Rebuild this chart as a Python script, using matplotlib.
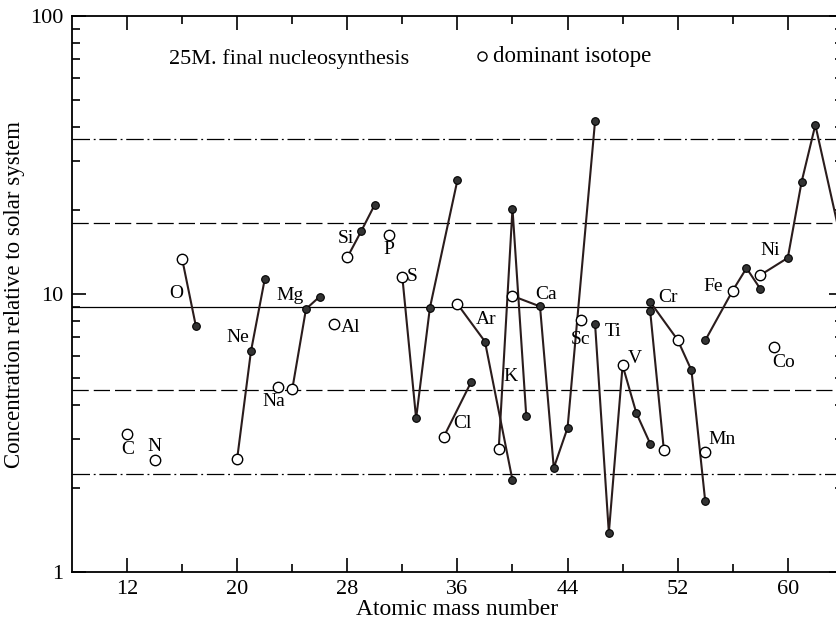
import matplotlib.pyplot as plt

plt.rcParams['font.family'] = ['Liberation Serif', 'DejaVu Serif']

# isotope chains of each element: mass number, concentration, dominant isotope flag
chain_mass = [
    [16, 17],                 # O
    [20, 21, 22],             # Ne
    [24, 25, 26],             # Mg
    [28, 29, 30],             # Si
    [32, 33, 34, 36],         # S
    [35, 37],                 # Cl
    [36, 38, 40],             # Ar
    [39, 40, 41],             # K
    [40, 42, 43, 44, 46],     # Ca
    [46, 47, 48, 49, 50],     # Ti
    [50, 51],                 # V
    [50, 52, 53, 54],         # Cr
    [54, 56, 57, 58],         # Fe
    [58, 60, 61, 62, 64],     # Ni
]
chain_conc = [
    [13.4, 7.67],
    [2.56, 6.22, 11.3],
    [4.54, 8.84, 9.8],
    [13.55, 16.8, 21.0],
    [11.5, 3.57, 8.92, 25.7],
    [3.06, 4.83],
    [9.21, 6.75, 2.14],
    [2.77, 20.3, 3.65],
    [9.85, 9.03, 2.37, 3.30, 42.0],
    [7.79, 1.385, 5.54, 3.73, 2.90],
    [8.71, 2.74],
    [9.38, 6.84, 5.32, 1.80],
    [6.81, 10.3, 12.4, 10.45],
    [11.7, 13.5, 25.3, 40.6, 14.6],
]
chain_dominant = [
    [1, 0],
    [1, 0, 0],
    [1, 0, 0],
    [1, 0, 0],
    [1, 0, 0, 0],
    [1, 0],
    [1, 0, 0],
    [1, 0, 0],
    [1, 0, 0, 0, 0],
    [0, 0, 1, 0, 0],
    [0, 1],
    [0, 1, 0, 0],
    [0, 1, 0, 0],
    [1, 0, 0, 0, 0],
]

# single dominant isotopes
single_mass = [12, 14, 23, 27, 31, 45, 54, 59]
single_conc = [3.15, 2.54, 4.64, 7.78, 16.3, 8.04, 2.71, 6.47]

# element names and where they are written
label_text = ['C', 'N', 'O', 'Ne', 'Na', 'Mg', 'Al', 'Si', 'P', 'S', 'Cl', 'Ar',
              'K', 'Ca', 'Sc', 'Ti', 'V', 'Cr', 'Mn', 'Fe', 'Co', 'Ni']
label_x = [12.02, 13.96, 15.54, 20.02, 22.69, 23.83, 28.27, 27.9, 31.0, 32.75,
           36.39, 38.09, 39.85, 42.45, 44.92, 47.3, 48.87, 51.3, 55.25, 54.57,
           59.71, 58.69]
label_y = [2.77, 2.84, 10.07, 6.97, 4.10, 9.85, 7.59, 15.9, 14.5, 11.6, 3.42,
           8.07, 5.04, 9.93, 6.86, 7.36, 5.88, 9.75, 2.99, 10.66, 5.67, 14.3]

# reference levels relative to solar
ref_levels = [36, 18, 9, 4.5, 2.25]
ref_styles = [(0, (14, 3, 1.5, 3)), (0, (13, 4)), '-', (0, (13, 4)), (0, (14, 3, 1.5, 3))]

line_col = '#2a1c1c'

fig = plt.figure(figsize=(8.37, 6.2), dpi=100)
ax = fig.add_axes([0.086, 0.0773, 0.921, 0.8967])
ax.set_yscale('log')
ax.set_xlim(8, 64)
ax.set_ylim(1, 100)

for lev, ls in zip(ref_levels, ref_styles):
    ax.axhline(lev, color='black', lw=0.9, ls=ls, zorder=1)

for m, c, d in zip(chain_mass, chain_conc, chain_dominant):
    ax.plot(m, c, color=line_col, lw=1.5, zorder=2)
    for mi, ci, di in zip(m, c, d):
        if di:
            ax.plot(mi, ci, 'o', ms=7.5, mfc='white', mec='black', mew=1.0, zorder=3)
        else:
            ax.plot(mi, ci, 'o', ms=5.5, mfc='#333333', mec='black', mew=0.8, zorder=3)

ax.plot(single_mass, single_conc, 'o', ms=7.5, mfc='white', mec='black', mew=1.0,
        ls='none', zorder=3)

for t, x, y in zip(label_text, label_x, label_y):
    ax.text(x, y, t, fontsize=14, ha='center', va='center', zorder=4)

ax.text(15.05, 70.2, '25M. final nucleosynthesis', fontsize=16, ha='left', va='center')
ax.plot(37.82, 71.6, 'o', ms=6.5, mfc='white', mec='black', mew=1.0)
ax.text(38.6, 71.6, 'dominant isotope', fontsize=16.5, ha='left', va='center')

ax.set_xticks([12, 20, 28, 36, 44, 52, 60])
ax.set_xticks([16, 24, 32, 40, 48, 56, 64], minor=True)
ax.set_yticks([1, 10, 100])
ax.set_yticklabels(['1', '10', '100'])
ax.tick_params(which='both', direction='in', top=True, right=True, width=1.2,
               labelsize=16, colors='black')
ax.tick_params(which='major', length=10, pad=6)
ax.tick_params(which='minor', length=6)
for s in ax.spines.values():
    s.set_linewidth(1.3)

ax.set_xlabel('Atomic mass number', fontsize=17, labelpad=0)
ax.set_ylabel('Concentration relative to solar system', fontsize=16.5, labelpad=4)

fig.savefig('out.png', dpi=100)
